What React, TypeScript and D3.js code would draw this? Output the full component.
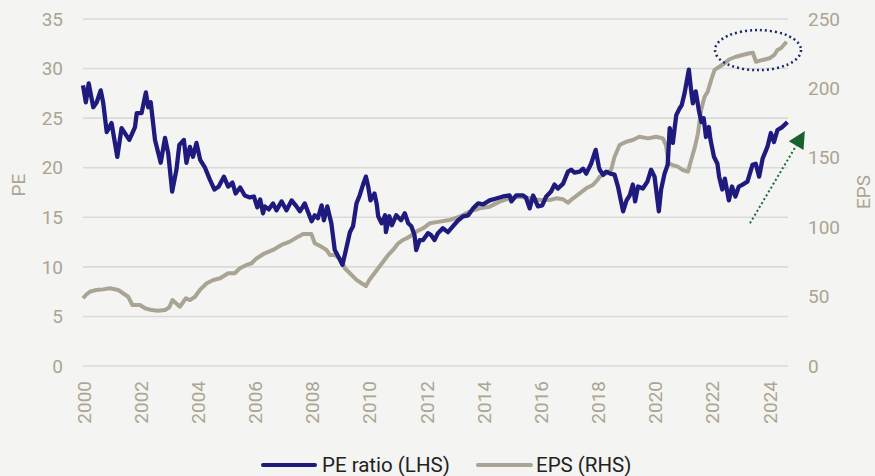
import React from "react";
import * as d3 from "d3";

// PE ratio (LHS), decimal year / value
const peYears = [
  2000.0, 2000.1, 2000.2, 2000.36, 2000.48, 2000.62, 2000.71, 2000.83, 2001.0, 2001.2, 2001.35, 2001.62, 2001.82, 2001.88,
  2002.05, 2002.2, 2002.28, 2002.37, 2002.52, 2002.72, 2002.87, 2002.98, 2003.12, 2003.27, 2003.37, 2003.53, 2003.62,
  2003.74, 2003.85, 2003.97, 2004.1, 2004.27, 2004.44, 2004.6, 2004.75, 2004.93, 2005.08, 2005.23, 2005.34, 2005.5,
  2005.66, 2005.84, 2005.98, 2006.1, 2006.2, 2006.3, 2006.36, 2006.5, 2006.65, 2006.77, 2006.95, 2007.12, 2007.3,
  2007.47, 2007.59, 2007.76, 2008.0, 2008.11, 2008.22, 2008.35, 2008.43, 2008.55, 2008.69, 2008.81, 2008.96, 2009.08,
  2009.2, 2009.34, 2009.45, 2009.57, 2009.68, 2009.8, 2009.9, 2009.98, 2010.06, 2010.2, 2010.28, 2010.33, 2010.45,
  2010.57, 2010.6, 2010.72, 2010.81, 2010.96, 2011.13, 2011.26, 2011.38, 2011.49, 2011.6, 2011.66, 2011.78, 2011.9,
  2012.07, 2012.18, 2012.3, 2012.42, 2012.59, 2012.77, 2012.95, 2013.13, 2013.3, 2013.48, 2013.65, 2013.83, 2014.0,
  2014.23, 2014.46, 2014.7, 2014.93, 2014.99, 2015.16, 2015.4, 2015.5, 2015.63, 2015.75, 2015.92, 2016.07, 2016.21,
  2016.38, 2016.5, 2016.62, 2016.8, 2016.97, 2017.08, 2017.2, 2017.38, 2017.5, 2017.61, 2017.78, 2017.94, 2018.05,
  2018.08, 2018.2, 2018.31, 2018.45, 2018.6, 2018.72, 2018.9, 2019.02, 2019.13, 2019.24, 2019.32, 2019.42, 2019.59,
  2019.75, 2019.88, 2020.0, 2020.15, 2020.23, 2020.35, 2020.46, 2020.53, 2020.64, 2020.76, 2020.88, 2020.95, 2021.05,
  2021.2, 2021.28, 2021.34, 2021.44, 2021.55, 2021.64, 2021.72, 2021.8, 2021.9, 2021.96, 2022.08, 2022.2, 2022.26,
  2022.37, 2022.46, 2022.6, 2022.71, 2022.83, 2022.95, 2023.08, 2023.25, 2023.43, 2023.54, 2023.66, 2023.78, 2023.95,
  2024.07, 2024.18, 2024.3, 2024.47, 2024.65,
];
const peValues = [
  28.3, 26.6, 28.5, 26.1, 26.6, 27.8, 26.5, 23.6, 24.5, 21.1, 24.0, 22.8, 24.1, 25.5,
  25.5, 27.6, 26.1, 26.6, 22.8, 20.5, 23.0, 21.5, 17.6, 19.8, 22.3, 22.8, 20.5,
  22.1, 21.1, 22.5, 20.8, 20.0, 18.8, 17.8, 18.1, 19.1, 18.1, 18.5, 17.4, 18.0,
  17.2, 17.0, 17.1, 16.0, 16.8, 15.4, 16.1, 15.8, 16.4, 15.7, 16.6, 15.7, 16.7,
  16.1, 15.6, 16.4, 14.6, 15.2, 14.9, 16.2, 14.7, 16.1, 14.4, 11.7, 10.9, 10.2,
  11.7, 13.5, 14.1, 16.4, 17.2, 18.3, 19.1, 18.1, 16.7, 17.4, 16.3, 15.1, 14.4,
  15.2, 13.5, 15.1, 14.2, 15.2, 14.7, 15.4, 14.4, 14.1, 13.2, 11.7, 12.7, 12.7,
  13.4, 13.2, 12.7, 13.4, 13.9, 13.5, 14.1, 14.7, 15.1, 15.2, 15.9, 16.4, 16.3,
  16.7, 16.9, 17.1, 17.2, 16.6, 17.2, 17.2, 17.0, 15.9, 17.2, 16.1, 16.2, 17.1,
  17.6, 18.3, 17.9, 18.4, 19.6, 19.8, 19.5, 19.6, 19.9, 19.4, 20.4, 21.8, 20.1,
  19.8, 19.3, 19.6, 19.4, 19.3, 18.1, 15.6, 16.7, 17.2, 18.3, 16.6, 18.1, 17.9,
  18.6, 19.8, 19.1, 15.6, 17.8, 19.4, 20.3, 24.0, 22.5, 25.3, 26.0, 26.3, 27.5,
  29.9, 27.8, 26.5, 27.7, 25.8, 24.6, 25.0, 23.1, 24.1, 22.8, 21.1, 20.4, 19.1,
  17.8, 18.9, 16.7, 18.1, 17.1, 18.1, 18.3, 18.6, 20.3, 20.4, 19.1, 20.9, 22.1,
  23.5, 22.6, 23.8, 24.1, 24.6,
];

// EPS (RHS)
const epsYears = [
  2000.0, 2000.12, 2000.24, 2000.47, 2000.7, 2000.94, 2001.23, 2001.4, 2001.58, 2001.73, 2001.99, 2002.17, 2002.4,
  2002.63, 2002.87, 2003.02, 2003.13, 2003.39, 2003.6, 2003.74, 2003.92, 2004.09, 2004.33, 2004.56, 2004.8, 2005.08,
  2005.31, 2005.49, 2005.72, 2005.9, 2006.07, 2006.36, 2006.65, 2006.94, 2007.24, 2007.53, 2007.7, 2007.99, 2008.11,
  2008.34, 2008.52, 2008.64, 2008.81, 2009.04, 2009.16, 2009.34, 2009.57, 2009.75, 2009.9, 2010.02, 2010.15, 2010.33,
  2010.5, 2010.68, 2010.85, 2011.03, 2011.2, 2011.43, 2011.66, 2011.9, 2012.13, 2012.48, 2012.83, 2013.18, 2013.53,
  2013.88, 2014.23, 2014.58, 2014.93, 2015.28, 2015.63, 2015.98, 2016.33, 2016.56, 2016.8, 2016.97, 2017.15, 2017.38,
  2017.61, 2017.84, 2018.0, 2018.08, 2018.31, 2018.48, 2018.6, 2018.78, 2019.01, 2019.24, 2019.47, 2019.77, 2020.06,
  2020.29, 2020.4, 2020.49, 2020.64, 2020.81, 2020.99, 2021.17, 2021.28, 2021.4, 2021.52, 2021.63, 2021.75, 2021.86,
  2021.98, 2022.1, 2022.27, 2022.45, 2022.62, 2022.85, 2023.08, 2023.32, 2023.44, 2023.55, 2023.78, 2024.02, 2024.19,
  2024.3, 2024.42, 2024.62,
];
const epsValues = [
  48.8, 51.5, 53.5, 54.8, 55.2, 56.0, 54.8, 52.4, 49.9, 43.9, 43.9, 41.6, 40.3,
  39.8, 40.3, 42.3, 47.5, 42.7, 48.8, 47.5, 49.9, 54.8, 59.6, 62.0, 63.2, 66.8,
  66.8, 70.4, 72.8, 74.0, 77.5, 81.2, 83.6, 87.2, 89.6, 93.2, 95.1, 95.1, 88.4,
  86.0, 83.6, 80.0, 80.0, 76.4, 70.4, 66.8, 62.0, 59.6, 57.6, 62.0, 65.6, 70.4,
  75.1, 80.0, 83.6, 88.4, 90.8, 93.2, 96.8, 99.2, 102.8, 104.0, 105.2, 107.6, 111.2,
  113.6, 114.8, 118.4, 120.8, 122.0, 120.8, 119.6, 119.6, 120.8, 120.1, 117.7, 120.8, 124.4,
  128.0, 130.4, 134.0, 136.4, 138.8, 141.2, 150.8, 159.2, 161.6, 162.8, 165.2, 164.0, 165.2,
  164.0, 159.2, 146.0, 144.8, 143.6, 141.2, 140.0, 148.4, 156.8, 167.6, 184.4, 194.0, 197.6,
  206.0, 213.3, 215.6, 218.1, 221.0, 222.8, 224.1, 225.3, 225.7, 219.2, 220.5, 221.7, 224.1,
  227.7, 228.9, 233.6,
];

const leftTicks = [0, 5, 10, 15, 20, 25, 30, 35];
const rightTicks = [0, 50, 100, 150, 200, 250];
const yearTicks = [2000, 2002, 2004, 2006, 2008, 2010, 2012, 2014, 2016, 2018, 2020, 2022, 2024];

const W = 875;
const H = 476;
const margin = { top: 19, right: 87, bottom: 110, left: 83 };
const BG = "#f4f4f2";
const TICK = "#aba591";
const PE_COLOR = "#1e1a7e";
const EPS_COLOR = "#a9a493";
const FONT = "Roboto, sans-serif";

export default function App() {
  const x = d3.scaleLinear().domain([2000, 2024.67]).range([margin.left, W - margin.right]);
  const yL = d3.scaleLinear().domain([0, 35]).range([H - margin.bottom, margin.top]);
  const yR = d3.scaleLinear().domain([0, 250]).range([H - margin.bottom, margin.top]);

  const pe = peYears.map((t, i) => ({ t, v: peValues[i] }));
  const eps = epsYears.map((t, i) => ({ t, v: epsValues[i] }));

  const peLine = d3.line<{ t: number; v: number }>().x(d => x(d.t)).y(d => yL(d.v));
  const epsLine = d3.line<{ t: number; v: number }>().x(d => x(d.t)).y(d => yR(d.v));

  // annotations in data units
  const ell = { cx: x(2023.62), cy: yR(227.6) };
  const a0 = [x(2023.34), yL(14.4)];
  const a1 = [x(2025.26), yL(23.7)];
  const dx = a1[0] - a0[0];
  const dy = a1[1] - a0[1];
  const len = Math.hypot(dx, dy);
  const ux = dx / len;
  const uy = dy / len;
  const headL = 17;
  const headW = 8.5;
  const bx = a1[0] - ux * headL;
  const by = a1[1] - uy * headL;
  const head = [
    [a1[0], a1[1]],
    [bx - uy * headW, by + ux * headW],
    [bx + uy * headW, by - ux * headW],
  ];

  const x0 = margin.left;
  const x1 = W - margin.right;

  return (
    <div style={{ position: "absolute", left: 0, top: 0 }}>
      <svg width={W} height={H} style={{ display: "block", background: BG }} fontFamily={FONT}>
        <rect width={W} height={H} fill={BG} />
        {leftTicks.map(t => (
          <line key={t} x1={x0} x2={x1} y1={yL(t)} y2={yL(t)} stroke="#dadad8" strokeWidth={1.6} />
        ))}
        {leftTicks.map(t => (
          <text key={t} x={63} y={yL(t)} dy="0.35em" textAnchor="end" fontSize={19} fill={TICK}>
            {t}
          </text>
        ))}
        {rightTicks.map(t => (
          <text key={t} x={808} y={yR(t)} dy="0.35em" textAnchor="start" fontSize={19} fill={TICK}>
            {t}
          </text>
        ))}
        {yearTicks.map(t => (
          <text
            key={t}
            transform={`translate(${x(t) + 1},381) rotate(-90)`}
            dy="0.35em"
            textAnchor="end"
            fontSize={19}
            fill={TICK}
          >
            {t}
          </text>
        ))}
        <text transform="translate(18,185) rotate(-90)" dy="0.35em" textAnchor="middle" fontSize={19} fill={TICK}>
          PE
        </text>
        <text transform="translate(863,192) rotate(-90)" dy="0.35em" textAnchor="middle" fontSize={19} fill={TICK}>
          EPS
        </text>

        <path d={epsLine(eps) || ""} fill="none" stroke={EPS_COLOR} strokeWidth={4} strokeLinejoin="round" />
        <path d={peLine(pe) || ""} fill="none" stroke={PE_COLOR} strokeWidth={4.3} strokeLinejoin="round" />

        <ellipse
          cx={ell.cx}
          cy={ell.cy}
          rx={43}
          ry={20}
          fill="none"
          stroke="#1d2d6b"
          strokeWidth={2.5}
          strokeDasharray="2 3"
        />
        <line x1={a0[0]} y1={a0[1]} x2={bx} y2={by} stroke="#1b6a35" strokeWidth={2} strokeDasharray="2 2.5" />
        <polygon points={head.map(p => p.join(",")).join(" ")} fill="#17612e" />

        <g transform="translate(0,465)">
          <line x1={263} x2={315} y1={0} y2={0} stroke={PE_COLOR} strokeWidth={4} strokeLinecap="round" />
          <text x={322} y={0} dy="0.35em" fontSize={20.5} fill="#222">
            PE ratio (LHS)
          </text>
          <line x1={478} x2={531} y1={0} y2={0} stroke={EPS_COLOR} strokeWidth={4} strokeLinecap="round" />
          <text x={536} y={0} dy="0.35em" fontSize={20.5} fill="#222">
            EPS (RHS)
          </text>
        </g>
      </svg>
    </div>
  );
}
